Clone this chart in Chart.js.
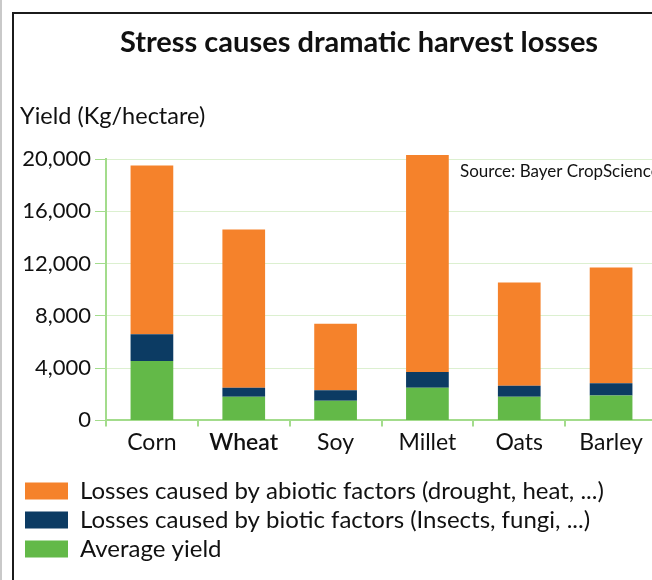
<!DOCTYPE html>
<html>
<head>
<meta charset="utf-8">
<title>Stress causes dramatic harvest losses</title>
<script src="https://cdn.jsdelivr.net/npm/chart.js@4.4.1/dist/chart.umd.min.js"></script>
<style>
  html, body { margin: 0; padding: 0; overflow: hidden; background: #fff; }
  #wrap { position: relative; width: 652px; height: 580px; overflow: hidden; }
  #harvestChart { position: absolute; left: 0; top: 0; }
</style>
</head>
<body>
<div id="wrap">
  <canvas id="harvestChart" width="700" height="580"></canvas>
</div>
<script>
// --- Data ---
const categories = ["Corn", "Wheat", "Soy", "Millet", "Oats", "Barley"];
const averageYield = [4550, 1800, 1500, 2500, 1800, 1900];
const bioticLosses = [2050, 700, 800, 1200, 850, 950];
const abioticLosses = [12900, 12100, 5100, 16600, 7900, 8850];
const yTickStep = 4000;
const yMax = 20000;

const titleText = "Stress causes dramatic harvest losses";
const yAxisLabel = "Yield (Kg/hectare)";
const sourceText = "Source: Bayer CropScience";

// --- Colours ---
const orange = "#f5822b";
const navy = "#0c3b63";
const green = "#63b948";
const axisGreen = "#a3dc8c";
const gridGreen = "#dcf0d0";
const ink = "#111";

// frame, title, axis caption and source note drawn straight on the canvas
const headerText = {
    id: "headerText",
    afterDraw(chart) {
        const ctx = chart.ctx;
        ctx.save();
        // outer frame: only top and left edges are inside the picture
        ctx.fillStyle = "#1b1b1b";
        ctx.fillRect(12, 12, chart.width, 2);
        ctx.fillRect(12, 12, 2, chart.height);
        ctx.fillStyle = "#c9c9c9";
        ctx.fillRect(0, 0, 2, chart.height);

        ctx.fillStyle = ink;
        ctx.textBaseline = "alphabetic";
        ctx.textAlign = "center";
        ctx.font = "bold 29px Lato";
        ctx.fillText(titleText, 359, 52);
        ctx.textAlign = "left";
        ctx.font = "23.5px Lato";
        ctx.fillText(yAxisLabel, 20, 124);
        ctx.font = "17px Lato";
        ctx.fillText(sourceText, 460, 177);
        ctx.restore();
    }
};

const barStyle = { borderWidth: 0, clip: false };

new Chart(document.getElementById("harvestChart"), {
    type: "bar",
    data: {
        labels: categories,
        datasets: [
            { label: "Average yield", data: averageYield, backgroundColor: green, ...barStyle },
            { label: "Losses caused by biotic factors (Insects, fungi, ...)", data: bioticLosses, backgroundColor: navy, ...barStyle },
            { label: "Losses caused by abiotic factors (drought, heat, ...)", data: abioticLosses, backgroundColor: orange, ...barStyle }
        ]
    },
    options: {
        responsive: false,
        animation: false,
        layout: { padding: { top: 159, left: 20, right: 43, bottom: 9 } },
        datasets: { bar: { barPercentage: 0.465, categoryPercentage: 1 } },
        plugins: {
            legend: {
                position: "bottom",
                align: "start",
                reverse: true,
                labels: { boxWidth: 43, boxHeight: 17, padding: 5, color: ink, font: { family: "Lato", size: 24 } }
            },
            tooltip: { enabled: false }
        },
        scales: {
            x: {
                stacked: true,
                grid: { display: true, drawOnChartArea: false, drawTicks: true, tickLength: 6, color: axisGreen, lineWidth: 2, offset: true },
                border: { display: true, color: axisGreen, width: 2 },
                ticks: {
                    padding: 2,
                    color: ink,
                    font: (c) => ({ family: "Lato", size: 23, weight: c.index === 1 ? "600" : "normal" })
                },
                afterFit: (s) => { s.height += 16; }
            },
            y: {
                stacked: true,
                min: 0,
                max: yMax,
                grid: { color: gridGreen, lineWidth: 1, tickColor: axisGreen, tickLength: 11, drawTicks: true },
                border: { display: true, color: axisGreen, width: 2 },
                ticks: {
                    stepSize: yTickStep,
                    padding: 4,
                    color: ink,
                    font: { family: "Lato", size: 22 },
                    callback: (v) => v.toLocaleString("en-US")
                },
                afterFit: (s) => { s.width = 86; }
            }
        }
    },
    plugins: [headerText]
});
</script>
</body>
</html>
